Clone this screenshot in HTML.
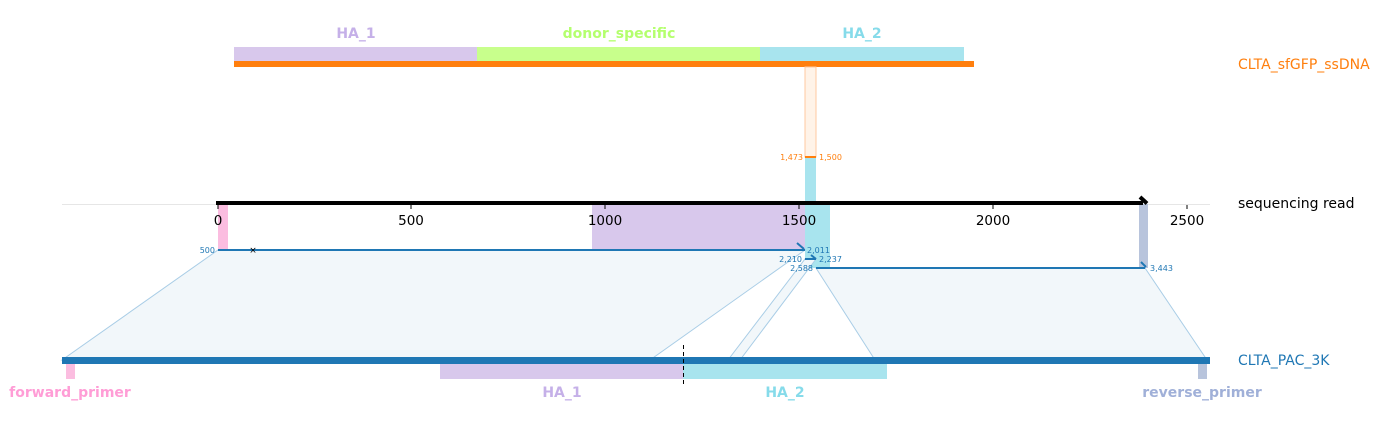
<!DOCTYPE html>
<html><head><meta charset="utf-8"><style>
html,body{margin:0;padding:0;background:#fff;}
svg{display:block;font-family:"DejaVu Sans","Liberation Sans",sans-serif;}
</style></head><body>
<svg width="1381" height="426" viewBox="0 0 1381 426" xmlns="http://www.w3.org/2000/svg">
<!-- top construct -->
<text x="356" y="38" font-size="14" font-weight="bold" fill="#c5b0e8" text-anchor="middle">HA_1</text>
<text x="619" y="38" font-size="14" font-weight="bold" fill="#b4ff6e" text-anchor="middle">donor_specific</text>
<text x="862" y="38" font-size="14" font-weight="bold" fill="#86dbea" text-anchor="middle">HA_2</text>
<rect x="234" y="47" width="243" height="14" fill="#d8c8ec"/>
<rect x="477" y="47" width="283" height="14" fill="#c8ff8c"/>
<rect x="760" y="47" width="204" height="14" fill="#a8e4ee"/>
<rect x="234" y="61" width="740" height="6" fill="#ff7f0e"/>
<text x="1238" y="69" font-size="14" fill="#ff7f0e">CLTA_sfGFP_ssDNA</text>
<!-- orange faint band -->
<rect x="805" y="67" width="11" height="90" fill="#fff3e8" stroke="#ffc9a0" stroke-width="1"/>
<text x="803" y="160" font-size="8" fill="#ff7f0e" text-anchor="end">1,473</text>
<text x="819" y="160" font-size="8" fill="#ff7f0e">1,500</text>
<line x1="805" y1="157" x2="816" y2="157" stroke="#ff7f0e" stroke-width="2"/>
<rect x="805" y="158" width="11" height="46" fill="#a8e4ee"/>
<!-- axis -->
<line x1="62" y1="204.5" x2="1210" y2="204.5" stroke="#e6e6e6" stroke-width="1"/>
<rect x="218" y="204" width="10" height="46" fill="#fbbde0"/>
<rect x="592" y="204" width="213" height="46" fill="#d8c8ec"/>
<rect x="805" y="204" width="25" height="64" fill="#a8e4ee"/>
<rect x="1139" y="204" width="9" height="64" fill="#b8c4dc"/>
<line x1="216" y1="203" x2="1143" y2="203" stroke="#000" stroke-width="4"/>
<polyline points="1140,197 1147,203.5" fill="none" stroke="#000" stroke-width="4"/>
<g font-size="13.5" fill="#000" text-anchor="middle">
<line x1="218" y1="205" x2="218" y2="209" stroke="#000"/><text x="218" y="225">0</text>
<line x1="411" y1="205" x2="411" y2="209" stroke="#000"/><text x="411" y="225">500</text>
<line x1="605" y1="205" x2="605" y2="209" stroke="#000"/><text x="605" y="225">1000</text>
<line x1="799" y1="205" x2="799" y2="209" stroke="#000"/><text x="799" y="225">1500</text>
<line x1="993" y1="205" x2="993" y2="209" stroke="#000"/><text x="993" y="225">2000</text>
<line x1="1187" y1="205" x2="1187" y2="209" stroke="#000"/><text x="1187" y="225">2500</text>
</g>
<text x="1238" y="208" font-size="14" fill="#000">sequencing read</text>
<!-- alignment fills -->
<polygon points="218,250 805,250 650,360 62,360" fill="#f2f7fa" stroke="#a9cde6" stroke-width="1"/>
<polygon points="805,259 816,259 740,360 728,360" fill="#f2f7fa" stroke="#a9cde6" stroke-width="1"/>
<polygon points="816,268 1145,268 1207,360 875,360" fill="#f2f7fa" stroke="#a9cde6" stroke-width="1"/>
<g stroke="#1f77b4" stroke-width="2" fill="none">
<line x1="218" y1="250" x2="805" y2="250"/>
<polyline points="797,243 804,249"/>
<line x1="805" y1="259" x2="816" y2="259"/>
<polyline points="811,255 816,259"/>
<line x1="816" y1="268" x2="1145" y2="268"/>
<polyline points="1141,262 1146,267"/>
</g>
<text x="253" y="253" font-size="9" fill="#000" text-anchor="middle">×</text>
<g font-size="8" fill="#1f77b4">
<text x="215" y="253" text-anchor="end">500</text>
<text x="807" y="253">2,011</text>
<text x="802" y="262" text-anchor="end">2,210</text>
<text x="819" y="262">2,237</text>
<text x="813" y="271" text-anchor="end">2,588</text>
<text x="1150" y="271">3,443</text>
</g>
<!-- bottom -->
<rect x="62" y="357" width="1148" height="7" fill="#1f77b4"/>
<rect x="66" y="364" width="9" height="15" fill="#fbbde0"/>
<rect x="440" y="364" width="243" height="15" fill="#d8c8ec"/>
<rect x="683" y="364" width="204" height="15" fill="#a8e4ee"/>
<rect x="1198" y="364" width="9" height="15" fill="#b8c4dc"/>
<line x1="683.5" y1="345" x2="683.5" y2="384" stroke="#000" stroke-width="1" stroke-dasharray="4,3"/>
<text x="1238" y="365" font-size="14" fill="#1f77b4">CLTA_PAC_3K</text>
<g font-size="14" font-weight="bold" text-anchor="middle">
<text x="70" y="397" fill="#ff9dd6">forward_primer</text>
<text x="562" y="397" fill="#c5b0e8">HA_1</text>
<text x="785" y="397" fill="#86dbea">HA_2</text>
<text x="1202" y="397" fill="#a0b0d8">reverse_primer</text>
</g>
</svg>
</body></html>
